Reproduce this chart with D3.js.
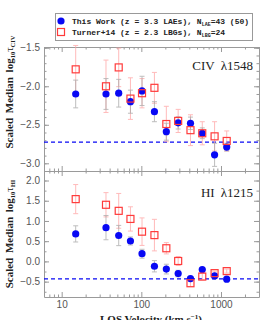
<!DOCTYPE html>
<html>
<head>
<meta charset="utf-8">
<script src="https://cdn.jsdelivr.net/npm/d3@7"></script>
<style>
    body { margin: 0; background: white; }
    svg { display: block; }
</style>
</head>
<body>
<script>
const width = 269
const height = 320
const margin = { left: 44, right: 10, top: 47, mid: 171, bottom: 23 }

// LOS velocity bins (km/s)
const velocity = [15, 36, 52, 73, 102, 146, 206, 290, 414, 582, 831, 1180]

// CIV panel
const civLae = [-2.10, -2.10, -2.09, -2.20, -2.06, -2.33, -2.59, -2.475, -2.48, -2.61, -2.89, -2.79]
const civLaeErr = [0.18, 0.20, 0.18, 0.15, 0.19, 0.13, 0.11, 0.08, 0.08, 0.07, 0.15, 0.05]
const civT14 = [-1.78, -2.00, -1.755, -2.16, -2.09, -2.02, -2.49, -2.45, -2.57, -2.61, -2.65, -2.71]
const civT14Err = [0.31, 0.34, 0.25, 0.27, 0.19, 0.20, 0.23, 0.15, 0.20, 0.15, 0.19, 0.13]
const civLevel = -2.725
const civTicks = [-1.5, -2.0, -2.5, -3.0]

// HI panel
const hiLae = [0.68, 0.835, 0.64, 0.505, 0.19, -0.12, -0.19, -0.30, -0.425, -0.20, -0.36, -0.44]
const hiLaeErr = [0.20, 0.30, 0.25, 0.10, 0.11, 0.14, 0.12, 0.08, 0.05, 0.05, 0.05, 0.03]
const hiT14 = [1.54, 1.40, 1.25, 1.05, 0.735, 0.65, 0.325, 0.01, -0.54, -0.375, -0.29, -0.24]
const hiT14Err = [0.36, 0.30, 0.43, 0.30, 0.34, 0.39, 0.14, 0.11, 0.08, 0.08, 0.05, 0.05]
const hiLevel = -0.432
const hiTicks = [2.0, 1.5, 1.0, 0.5, 0.0, -0.5]

const xTicks = [10, 100, 1000]
const xMinor = [6, 7, 8, 9, 20, 30, 40, 50, 60, 70, 80, 90, 200, 300, 400, 500, 600, 700, 800, 900, 2000, 3000]

const blue = "#0808f4"
const red = "#ff3b3b"
const frameColor = "#9a9a9a"

const svg = d3.select("body").append("svg")
    .attr("width", width)
    .attr("height", height)

const x = d3.scaleLog()
    .domain([6, 3000])
    .range([margin.left, width - margin.right])

const yCiv = d3.scaleLinear()
    .domain([-3.1, -1.49])
    .range([margin.mid, margin.top])

const yHi = d3.scaleLinear()
    .domain([-0.88, 2.235])
    .range([height - margin.bottom, margin.mid])

const fmt = d => d3.format(".1f")(d).replace("-", "\u2212")

function drawPanel(yScale, ticks, minorStep, lae, laeErr, t14, t14Err, level, showX) {

    const [y0, y1] = yScale.range()
    const g = svg.append("g")

    const yMinor = d3.range(Math.ceil(yScale.domain()[0] / minorStep), Math.floor(yScale.domain()[1] / minorStep) + 1)
        .map(k => k * minorStep)

    // frame with inward ticks on all four sides
    const axes = [
        [d3.axisLeft(yScale), margin.left, 0, ticks, yMinor, fmt],
        [d3.axisRight(yScale), width - margin.right, 0, ticks, yMinor, null],
        [d3.axisBottom(x), 0, y0, xTicks, xMinor, showX ? d3.format("d") : null],
        [d3.axisTop(x), 0, y1, xTicks, xMinor, null]
    ]

    axes.forEach(([axis, tx, ty, major, minor, labels]) => {
        g.append("g")
            .attr("transform", `translate(${tx},${ty})`)
            .call(axis.tickValues(minor).tickSize(-2.5).tickFormat(""))
            .call(a => a.select(".domain").remove())
        g.append("g")
            .attr("transform", `translate(${tx},${ty})`)
            .call(axis.tickValues(major).tickSizeInner(-5).tickSizeOuter(0).tickPadding(4)
                .tickFormat(labels || ""))
    })

    g.selectAll(".domain, .tick line")
        .attr("stroke", frameColor)
    g.selectAll(".tick text")
        .attr("fill", "#555")
        .style("font-family", "Liberation Sans, Arial, sans-serif")
        .style("font-size", "10px")

    g.append("line")
        .attr("x1", margin.left)
        .attr("x2", width - margin.right)
        .attr("y1", yScale(level))
        .attr("y2", yScale(level))
        .attr("stroke", blue)
        .attr("stroke-width", 1.2)
        .attr("stroke-dasharray", "4,3")

    const drawErrors = (vals, errs, color) => {
        const eb = g.append("g")
            .attr("stroke", color)
            .attr("stroke-width", 1)
            .attr("opacity", 0.75)
        velocity.forEach((v, i) => {
            const cx = x(v)
            const top = yScale(vals[i] + errs[i])
            const bot = yScale(vals[i] - errs[i])
            eb.append("line").attr("x1", cx).attr("x2", cx).attr("y1", top).attr("y2", bot)
            eb.append("line").attr("x1", cx - 2.5).attr("x2", cx + 2.5).attr("y1", top).attr("y2", top)
            eb.append("line").attr("x1", cx - 2.5).attr("x2", cx + 2.5).attr("y1", bot).attr("y2", bot)
        })
    }

    drawErrors(t14, t14Err, "#ffa4a4")
    drawErrors(lae, laeErr, "#a8a8a8")

    g.selectAll(".lae")
        .data(velocity)
        .join("circle")
        .attr("cx", d => x(d))
        .attr("cy", (d, i) => yScale(lae[i]))
        .attr("r", 3.6)
        .attr("fill", blue)

    g.selectAll(".t14")
        .data(velocity)
        .join("rect")
        .attr("x", d => x(d) - 3.5)
        .attr("y", (d, i) => yScale(t14[i]) - 3.5)
        .attr("width", 7)
        .attr("height", 7)
        .attr("fill", "none")
        .attr("stroke", red)
        .attr("stroke-width", 1.2)
}

drawPanel(yCiv, civTicks, 0.1, civLae, civLaeErr, civT14, civT14Err, civLevel, false)
drawPanel(yHi, hiTicks, 0.25, hiLae, hiLaeErr, hiT14, hiT14Err, hiLevel, true)

// panel labels
const serif = "Liberation Serif, Times New Roman, serif"

const panelLabel = (ion, wave, yPos) => {
    const t = svg.append("text")
        .attr("x", 253)
        .attr("y", yPos)
        .attr("text-anchor", "end")
        .style("font-family", serif)
        .style("font-size", "13px")
        .attr("fill", "#222")
    t.append("tspan").text(ion)
    t.append("tspan").attr("dx", 6).text("\u03bb" + wave)
}
panelLabel("CIV", "1548", 70)
panelLabel("HI", "1215", 197)

// y axis titles
const yTitle = (sub, cy) => {
    const t = svg.append("text")
        .attr("transform", `translate(13,${cy}) rotate(-90)`)
        .attr("text-anchor", "middle")
        .style("font-family", serif)
        .style("font-weight", "bold")
        .style("font-size", "11px")
        .style("word-spacing", "2px")
        .attr("fill", "#222")
    t.append("tspan").text("Scaled Median log")
    t.append("tspan").style("font-size", "6.5px").attr("dy", 2).text("10")
    t.append("tspan").attr("dy", -2).style("font-weight", "normal").text("\u03c4")
    t.append("tspan").style("font-size", "6.5px").attr("dy", 2).text(sub)
}
yTitle("CIV", 92)
yTitle("HI", 234)

// x axis title, cut by the bottom edge as in the original
const xTitle = svg.append("text")
    .attr("x", 151)
    .attr("y", 323)
    .attr("text-anchor", "middle")
    .style("font-family", serif)
    .style("font-weight", "bold")
    .style("font-size", "11px")
    .attr("fill", "#222")
xTitle.append("tspan").text("LOS Velocity (km s")
xTitle.append("tspan").attr("dy", -4).style("font-size", "7px").text("\u22121")
xTitle.append("tspan").attr("dy", 4).text(")")

// legend
const legend = svg.append("g")

legend.append("rect")
    .attr("x", 55.5)
    .attr("y", 13.5)
    .attr("width", 197)
    .attr("height", 27)
    .attr("fill", "white")
    .attr("stroke", "#999")

legend.append("circle")
    .attr("cx", 61)
    .attr("cy", 21)
    .attr("r", 3.6)
    .attr("fill", blue)

legend.append("rect")
    .attr("x", 57.5)
    .attr("y", 28.5)
    .attr("width", 7)
    .attr("height", 7)
    .attr("fill", "none")
    .attr("stroke", red)
    .attr("stroke-width", 1.2)

const legendRow = (main, sub, tail, yPos) => {
    const t = legend.append("text")
        .attr("x", 72)
        .attr("y", yPos)
        .style("font-family", "Liberation Mono, Courier New, monospace")
        .style("font-weight", "bold")
        .style("font-size", "8px")
        .attr("fill", "#222")
    t.append("tspan").text(main)
    t.append("tspan").attr("dy", 1.5).style("font-size", "5px").text(sub)
    t.append("tspan").attr("dy", -1.5).text(tail)
}
legendRow("This Work (z = 3.3 LAEs), N", "LAE", "=43 (50)", 24)
legendRow("Turner+14 (z = 2.3 LBGs), N", "LBG", "=24", 35)
</script>
</body>
</html>
